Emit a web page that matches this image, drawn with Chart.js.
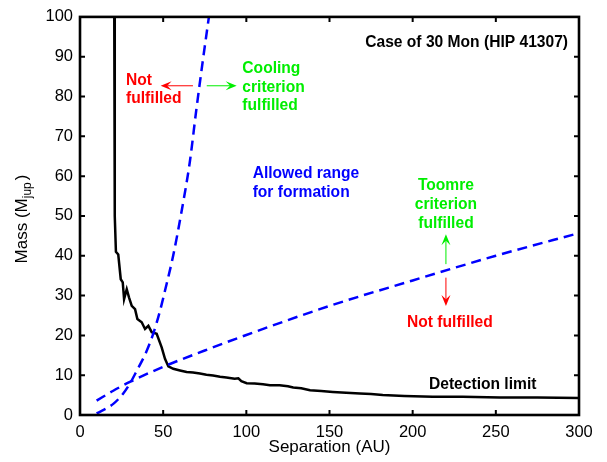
<!DOCTYPE html>
<html>
<head>
<meta charset="utf-8">
<script src="https://cdn.jsdelivr.net/npm/chart.js@4.4.1/dist/chart.umd.min.js"></script>
<style>
  html, body { margin: 0; padding: 0; background: #fff; }
  canvas { display: block; }
</style>
</head>
<body>
<canvas id="massChart" width="607" height="462"></canvas>
<script>
// detection limit (black solid)
const limitSep  = [20.6, 20.8, 21.0, 21.6, 23.0, 24.5, 25.7, 26.5, 28.1, 29.5, 31.1, 33.1, 34.5, 37.1, 39.1, 41.1, 43.1, 46.1, 49.1, 51.1, 53.1, 56.1, 60.1, 64.1, 68.0, 72.1, 76.0, 80.0, 84.2, 88.0, 93.0, 95.2, 97.0, 100.2, 105.0, 110.0, 114.2, 120.0, 125.0, 128.2, 133.0, 138.3, 145.0, 152.0, 160.0, 168.3, 175.0, 182.0, 195.0, 212.0, 230.0, 252.5, 275.0, 300.0];
const limitMass = [100, 70, 50, 41.0, 40.3, 34.1, 33.3, 29.1, 31.6, 29.5, 27.4, 26.6, 24.1, 23.3, 21.6, 22.4, 20.8, 20.4, 17.0, 14.1, 12.2, 11.6, 11.2, 10.8, 10.7, 10.4, 10.1, 9.9, 9.6, 9.4, 9.1, 9.2, 8.5, 8.0, 7.9, 7.7, 7.5, 7.5, 7.2, 6.9, 6.7, 6.2, 6.0, 5.8, 5.6, 5.4, 5.3, 5.0, 4.8, 4.6, 4.6, 4.4, 4.4, 4.3];

// Toomre criterion (blue dashed, shallow)
const toomreSep  = [10, 20, 30, 50, 75, 100, 150, 200, 250, 300];
const toomreMass = [3.6, 6.1, 8.3, 12.1, 16.2, 20.1, 27.4, 33.8, 40.0, 45.7];

// cooling criterion (blue dashed, steep)
const coolingSep  = [10, 20, 26, 30, 34, 40, 44, 48, 52, 56, 61, 66, 70, 74, 77.5];
const coolingMass = [0.4, 2.8, 5.4, 7.9, 11.0, 16.0, 20.4, 26.0, 32.8, 40.0, 51.0, 63.5, 76.9, 89.5, 100];

const xTicks = [0, 50, 100, 150, 200, 250, 300];
const yTicks = [0, 10, 20, 30, 40, 50, 60, 70, 80, 90, 100];

const FONT = 'Arial, "Liberation Sans", Helvetica, sans-serif';
const BLUE = '#0000ff';
const GREEN = '#00ee00';
const RED = '#ff0000';

function pts(xs, ys) {
  return xs.map((x, i) => ({ x: x, y: ys[i] }));
}

function arrow(ctx, x1, y1, x2, y2, color) {
  const ang = Math.atan2(y2 - y1, x2 - x1);
  const len = 11, hw = 4.5;
  ctx.save();
  ctx.strokeStyle = color;
  ctx.fillStyle = color;
  ctx.lineWidth = 1;
  ctx.beginPath();
  ctx.moveTo(x1, y1);
  ctx.lineTo(x2 - Math.cos(ang) * len * 0.6, y2 - Math.sin(ang) * len * 0.6);
  ctx.stroke();
  ctx.translate(x2, y2);
  ctx.rotate(ang);
  ctx.beginPath();
  ctx.moveTo(0, 0);
  ctx.lineTo(-len, -hw);
  ctx.lineTo(-len * 0.6, 0);
  ctx.lineTo(-len, hw);
  ctx.closePath();
  ctx.fill();
  ctx.restore();
}

const framePlugin = {
  id: 'frame',
  afterDraw(chart) {
    const { ctx, chartArea: a, scales } = chart;
    ctx.save();
    ctx.strokeStyle = '#000';
    ctx.lineWidth = 2;
    xTicks.forEach(v => {
      const px = scales.x.getPixelForValue(v);
      ctx.beginPath();
      ctx.moveTo(px, a.bottom); ctx.lineTo(px, a.bottom - 5);
      ctx.moveTo(px, a.top); ctx.lineTo(px, a.top + 5);
      ctx.stroke();
    });
    yTicks.forEach(v => {
      const py = scales.y.getPixelForValue(v);
      ctx.beginPath();
      ctx.moveTo(a.left, py); ctx.lineTo(a.left + 5, py);
      ctx.moveTo(a.right, py); ctx.lineTo(a.right - 5, py);
      ctx.stroke();
    });
    ctx.lineWidth = 2.6;
    ctx.strokeRect(a.left, a.top, a.right - a.left, a.bottom - a.top);

    // axis titles
    ctx.fillStyle = '#000';
    ctx.font = '17px ' + FONT;
    ctx.textAlign = 'center';
    ctx.textBaseline = 'middle';
    ctx.fillText('Separation (AU)', (a.left + a.right) / 2, 447);

    ctx.save();
    ctx.translate(22, 219);
    ctx.rotate(-Math.PI / 2);
    ctx.textAlign = 'left';
    ctx.font = '17px ' + FONT;
    const main = 'Mass (M';
    const wMain = ctx.measureText(main).width;
    ctx.font = '12px ' + FONT;
    const wSub = ctx.measureText('jup').width;
    ctx.font = '17px ' + FONT;
    const wClose = ctx.measureText(')').width;
    const total = wMain + wSub + 2 + wClose;
    let x0 = -total / 2;
    ctx.fillText(main, x0, 0);
    ctx.font = '12px ' + FONT;
    ctx.fillText('jup', x0 + wMain, 6);
    ctx.font = '17px ' + FONT;
    ctx.fillText(')', x0 + wMain + wSub + 2, 0);
    ctx.restore();
    ctx.restore();
  }
};

const notesPlugin = {
  id: 'notes',
  afterDatasetsDraw(chart) {
    const { ctx, scales } = chart;
    const X = v => scales.x.getPixelForValue(v);
    const Y = v => scales.y.getPixelForValue(v);
    ctx.save();
    ctx.font = 'bold 15.6px ' + FONT;
    ctx.textBaseline = 'middle';

    ctx.fillStyle = '#000';
    ctx.textAlign = 'right';
    ctx.fillText('Case of 30 Mon (HIP 41307)', X(293.4), Y(93.5));

    ctx.textAlign = 'left';
    ctx.fillStyle = RED;
    ctx.fillText('Not', X(27.7), Y(84.1));
    ctx.fillText('fulfilled', X(27.7), Y(79.4));

    ctx.fillStyle = GREEN;
    ctx.fillText('Cooling', X(97.6), Y(87.1));
    ctx.fillText('criterion', X(97.6), Y(82.3));
    ctx.fillText('fulfilled', X(97.6), Y(77.7));

    ctx.fillStyle = BLUE;
    ctx.fillText('Allowed range', X(103.8), Y(60.7));
    ctx.fillText('for formation', X(103.8), Y(55.9));

    ctx.textAlign = 'center';
    ctx.fillStyle = GREEN;
    ctx.fillText('Toomre', X(220), Y(57.5));
    ctx.fillText('criterion', X(220), Y(52.8));
    ctx.fillText('fulfilled', X(220), Y(48.1));

    ctx.fillStyle = RED;
    ctx.fillText('Not fulfilled', X(222.4), Y(23.3));

    ctx.fillStyle = '#000';
    ctx.fillText('Detection limit', X(242.1), Y(7.5));

    arrow(ctx, X(67.9), Y(82.7), X(48.5), Y(82.7), RED);
    arrow(ctx, X(76.2), Y(82.7), X(94.2), Y(82.7), GREEN);
    arrow(ctx, X(220), Y(37.9), X(220), Y(45.4), GREEN);
    arrow(ctx, X(220), Y(34.5), X(220), Y(27.4), RED);
    ctx.restore();
  }
};

new Chart(document.getElementById('massChart'), {
  type: 'line',
  data: {
    datasets: [
      {
        label: 'Toomre criterion',
        data: pts(toomreSep, toomreMass),
        borderColor: BLUE,
        borderWidth: 2.5,
        borderDash: [10, 6],
        pointRadius: 0,
        cubicInterpolationMode: 'monotone',
        fill: false
      },
      {
        label: 'Cooling criterion',
        data: pts(coolingSep, coolingMass),
        borderColor: BLUE,
        borderWidth: 2.5,
        borderDash: [10, 6],
        pointRadius: 0,
        cubicInterpolationMode: 'monotone',
        fill: false
      },
      {
        label: 'Detection limit',
        data: pts(limitSep, limitMass),
        borderColor: '#000',
        borderWidth: 2.5,
        pointRadius: 0,
        tension: 0,
        fill: false
      }
    ]
  },
  options: {
    responsive: false,
    animation: false,
    devicePixelRatio: 1,
    layout: { padding: { top: 14, right: 28, bottom: 0, left: 0 } },
    plugins: {
      legend: { display: false },
      tooltip: { enabled: false }
    },
    scales: {
      x: {
        type: 'linear',
        min: 0,
        max: 300,
        afterBuildTicks: s => { s.ticks = xTicks.map(v => ({ value: v })); },
        afterFit: s => { s.height = 47; },
        grid: { display: false, drawTicks: false },
        border: { display: false },
        ticks: { color: '#000', padding: 8, maxRotation: 0, font: { size: 16.5, family: FONT } }
      },
      y: {
        type: 'linear',
        min: 0,
        max: 100,
        afterBuildTicks: s => { s.ticks = yTicks.map(v => ({ value: v })); },
        afterFit: s => { s.width = 80; },
        grid: { display: false, drawTicks: false },
        border: { display: false },
        ticks: { color: '#000', padding: 7, font: { size: 16.5, family: FONT } }
      }
    }
  },
  plugins: [notesPlugin, framePlugin]
});
</script>
</body>
</html>
